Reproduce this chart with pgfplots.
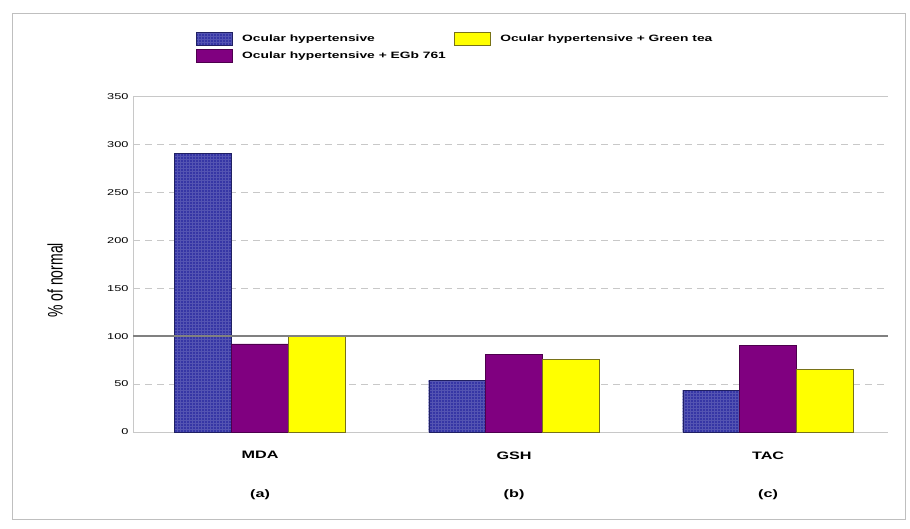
\documentclass[border=0pt]{standalone}
\usepackage{pgfplots}
\pgfplotsset{compat=1.18}
\usepackage{fontspec}
\setmainfont{Liberation Sans}
\usetikzlibrary{patterns}
\definecolor{ohblue}{RGB}{54,54,165}
\definecolor{ohpurple}{RGB}{128,0,128}
\definecolor{ohyellow}{RGB}{255,255,0}
\definecolor{gridgray}{RGB}{200,200,200}
\newcommand{\sx}[1]{\scalebox{1.5}[1]{#1}}
\begin{document}
\begin{tikzpicture}
\path[use as bounding box] (0pt,0pt) rectangle (910pt,528pt);
\draw[gray!50, line width=1pt] (12pt,9pt) rectangle (905pt,514pt);
\begin{axis}[
  at={(133pt,96pt)}, anchor=south west,
  scale only axis, width=755pt, height=335.5pt,
  bar width=0.224,
  xmin=-0.5, xmax=2.472, ymin=0, ymax=350,
  ytick={0,50,...,300},
  yticklabel={\sx{\pgfmathprintnumber{\tick}}},
  extra y ticks={350},
  extra y tick style={grid=none},
  xtick={0,1,2},
  xticklabels={\sx{MDA},\sx{GSH},\sx{TAC}},
  extra x ticks={0,1,2},
  extra x tick labels={\sx{(a)},\sx{(b)},\sx{(c)}},
  extra x tick style={tick label style={yshift=-38pt}, major tick length=0pt, grid=none},
  x tick label style={font=\fontsize{10.8}{12}\selectfont\bfseries, yshift=-16pt},
  y tick label style={font=\fontsize{8.5}{9}\selectfont, xshift=-1pt},
  /pgf/number format/assume math mode=true,
  major x tick style={draw=none},
  ytick style={draw=gridgray, line width=0.8pt},
  major tick length=5pt,
  axis x line*=bottom, axis y line*=left,
  axis line style={gridgray, line width=0.9pt},
  ymajorgrids, grid style={gridgray, dash pattern=on 7pt off 5pt, line width=0.9pt},
  ylabel={\scalebox{1}[1.5]{\% of normal}},
  ylabel style={font=\fontsize{14}{16}\selectfont, at={(axis description cs:-0.103,0.452)}, anchor=center},
  legend columns=2,
  legend style={at={(axis description cs:0.079,1.199)}, anchor=north west, draw=none, fill=none,
    font=\fontsize{9.2}{11}\selectfont\bfseries,
    /tikz/every odd column/.append style={column sep=8pt},
    /tikz/every even column/.append style={column sep=6pt},
    row sep=4pt},
  legend cell align=left,
  legend image code/.code={\draw[#1] (0pt,-6.5pt) rectangle (36pt,6.5pt);},
  clip=false,
]
\addplot[ybar, bar shift=-0.224, forget plot, draw=ohblue!60!black, fill=ohblue, postaction={pattern=grid, pattern color=ohblue!85!white}] coordinates {(0,291) (1,54) (2,43.5)};
\addplot[ybar, bar shift=0, forget plot, draw=ohpurple!60!black, fill=ohpurple] coordinates {(0,92) (1,81) (2,90.5)};
\addplot[ybar, bar shift=0.224, forget plot, draw=olive!80!black, fill=ohyellow] coordinates {(0,100) (1,76) (2,65.5)};
\addplot[forget plot, no marks, line width=1.8pt, gray, sharp plot] coordinates {(-0.5,100) (2.472,100)};
\addplot[forget plot, no marks, line width=1.2pt, gridgray, sharp plot] coordinates {(-0.5,350) (2.472,350)};
\addlegendimage{draw=ohblue!60!black, fill=ohblue, postaction={pattern=grid, pattern color=ohblue!85!white}}
\addlegendentry{\sx{Ocular hypertensive}}
\addlegendimage{draw=olive!80!black, fill=ohyellow}
\addlegendentry{\sx{Ocular hypertensive + Green tea}}
\addlegendimage{draw=ohpurple!60!black, fill=ohpurple}
\addlegendentry{\sx{Ocular hypertensive + EGb 761}}
\end{axis}
\end{tikzpicture}
\end{document}
